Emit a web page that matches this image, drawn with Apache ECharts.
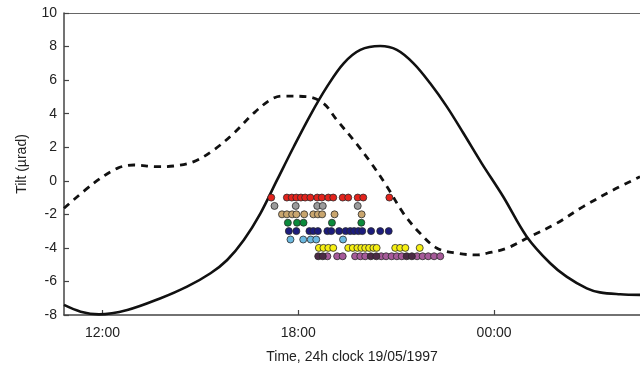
<!DOCTYPE html>
<html>
<head>
<meta charset="utf-8">
<script src="https://cdn.jsdelivr.net/npm/echarts@6/dist/echarts.min.js"></script>
<style>
  html, body { margin: 0; padding: 0; background: #fff; }
  #chart { width: 640px; height: 367px; }
</style>
</head>
<body>
<div id="chart"></div>
<script>
// 時刻は時間単位（24以降は翌日）
const xTicks = [12, 18, 24];
const yTicks = [-8, -6, -4, -2, 0, 2, 4, 6, 8, 10];

// 実線（傾斜）
const solidTime = [10.82, 11.33, 11.89, 12.76, 13.78, 14.59, 15.31, 15.82, 16.33, 16.84, 17.35, 17.86,
  18.37, 18.88, 19.39, 19.90, 20.51, 21.02, 21.53, 22.04, 22.55, 23.06, 23.62, 24.28, 25.00, 25.71,
  26.22, 26.84, 27.24, 27.86, 28.47];
const solidTilt = [-7.4, -7.8, -7.96, -7.7, -7.0, -6.31, -5.51, -4.72, -3.53, -1.94, 0.05, 2.03,
  3.92, 5.61, 7.0, 7.8, 8.03, 7.8, 7.0, 5.81, 4.42, 2.83, 1.04, -0.95, -3.33, -4.9,
  -5.71, -6.41, -6.65, -6.76, -6.8];

// 破線
const dashedTime = [10.82, 11.73, 12.45, 12.96, 13.67, 14.18, 14.80, 15.41, 16.02, 16.63, 17.14, 17.50,
  18.27, 18.77, 19.18, 19.69, 20.20, 20.72, 21.22, 21.73, 22.25, 22.86, 23.47, 23.78, 24.39, 25.10,
  25.92, 26.73, 27.65, 28.47];
const dashedTilt = [-1.64, -0.15, 0.74, 0.94, 0.84, 0.88, 1.14, 1.84, 2.83, 4.02, 4.82, 5.05,
  5.01, 4.62, 3.62, 2.43, 1.14, -0.35, -1.94, -3.13, -4.02, -4.32, -4.42, -4.32, -4.02, -3.33,
  -2.53, -1.54, -0.55, 0.24];

// 点列（行ごと）
const redTimes = [17.17, 17.65, 17.80, 17.94, 18.08, 18.21, 18.37, 18.58, 18.72, 18.92, 19.07, 19.36, 19.53, 19.82, 19.99, 20.79];
const grayTimes = [17.27, 17.92, 18.58, 18.75, 19.82];
const tanTimes = [17.50, 17.65, 17.81, 17.94, 18.18, 18.46, 18.60, 18.73, 19.11, 19.94];
const greenTimes = [17.68, 17.96, 18.16, 19.03, 19.93];
const navyTimes = [17.71, 17.94, 18.34, 18.46, 18.60, 18.89, 19.01, 19.25, 19.45, 19.59, 19.71, 19.84, 19.96, 20.23, 20.51, 20.77];
const blueTimes = [17.76, 18.15, 18.38, 18.55, 19.37];
const yellowTimes = [18.63, 18.77, 18.92, 19.07, 19.53, 19.67, 19.81, 19.93, 20.05, 20.17, 20.30, 20.40, 20.97, 21.12, 21.28, 21.72];
const purpleTimes = [18.89, 19.19, 19.36, 19.74, 19.90, 20.05, 20.54, 20.69, 20.86, 21.02, 21.17, 21.64, 21.81, 21.98, 22.16, 22.35];
const darkPurpleTimes = [18.61, 18.75, 20.22, 20.39, 21.32, 21.48];

const rowTilt = { red: -1, gray: -1.5, tan: -2, green: -2.5, navy: -3, blue: -3.5, yellow: -4, purple: -4.5 };

const fontFamily = '"Liberation Sans", Arial, sans-serif';

function zip(xs, ys) { return xs.map((x, i) => [x, ys[i]]); }

function dotRow(name, times, tilt, color) {
  return {
    name: name,
    type: 'scatter',
    z: 5,
    symbol: 'circle',
    symbolSize: 7,
    data: times.map(t => [t, tilt]),
    itemStyle: { color: color, borderColor: '#2a2a2a', borderWidth: 0.8, opacity: 1 }
  };
}

function fmtHour(v) {
  const h = Math.round(v) % 24;
  return (h < 10 ? '0' : '') + h + ':00';
}

const chart = echarts.init(document.getElementById('chart'));

const option = {
  animation: false,
  backgroundColor: '#fff',
  grid: { left: 64, right: 0, top: 13, bottom: 52, outerBoundsMode: 'none' },
  xAxis: [
    {
      type: 'value',
      min: 10.82,
      max: 28.47,
      name: 'Time, 24h clock 19/05/1997',
      nameLocation: 'middle',
      nameGap: 35,
      nameTextStyle: { fontFamily: fontFamily, fontSize: 14, color: '#222' },
      axisLine: { onZero: false, lineStyle: { color: '#444', width: 1.5 } },
      axisTick: { inside: true, length: 5, customValues: xTicks, lineStyle: { color: '#444', width: 1.2 } },
      axisLabel: {
        customValues: xTicks,
        formatter: fmtHour,
        margin: 11,
        fontFamily: fontFamily,
        fontSize: 14,
        color: '#222'
      },
      splitLine: { show: false }
    },
    {
      type: 'value',
      position: 'top',
      min: 10.82,
      max: 28.47,
      axisLine: { onZero: false, lineStyle: { color: '#666', width: 1.2 } },
      axisTick: { show: false },
      axisLabel: { show: false },
      splitLine: { show: false }
    }
  ],
  yAxis: {
    type: 'value',
    min: -8,
    max: 10,
    interval: 2,
    name: 'Tilt (\u00b5rad)',
    nameLocation: 'middle',
    nameRotate: 90,
    nameGap: 35,
    nameTextStyle: { fontFamily: fontFamily, fontSize: 14, color: '#222' },
    axisLine: { show: true, onZero: false, lineStyle: { color: '#444', width: 1.5 } },
    axisTick: { inside: true, length: 5, lineStyle: { color: '#444', width: 1.2 } },
    axisLabel: {
      margin: 7,
      fontFamily: fontFamily,
      fontSize: 14,
      color: '#222',
      formatter: v => (yTicks.indexOf(v) >= 0 ? String(v) : '')
    },
    splitLine: { show: false }
  },
  series: [
    {
      name: 'solid',
      type: 'line',
      smooth: 0.35,
      showSymbol: false,
      data: zip(solidTime, solidTilt),
      lineStyle: { color: '#111', width: 2.6 }
    },
    {
      name: 'dashed',
      type: 'line',
      smooth: 0.35,
      showSymbol: false,
      data: zip(dashedTime, dashedTilt),
      lineStyle: { color: '#111', width: 2.8, type: [7, 6] }
    },
    dotRow('red', redTimes, rowTilt.red, '#e3231c'),
    dotRow('gray', grayTimes, rowTilt.gray, '#9b9b9b'),
    dotRow('tan', tanTimes, rowTilt.tan, '#c9a66f'),
    dotRow('green', greenTimes, rowTilt.green, '#0b8a3c'),
    dotRow('navy', navyTimes, rowTilt.navy, '#1c1c7c'),
    dotRow('blue', blueTimes, rowTilt.blue, '#6ab8e0'),
    dotRow('yellow', yellowTimes, rowTilt.yellow, '#f6ef12'),
    dotRow('purple', purpleTimes, rowTilt.purple, '#a65a99'),
    dotRow('darkPurple', darkPurpleTimes, rowTilt.purple, '#4b2a45')
  ]
};

chart.setOption(option);

window.addEventListener('resize', () => { try { chart.resize(); } catch {} });
</script>
</body>
</html>
